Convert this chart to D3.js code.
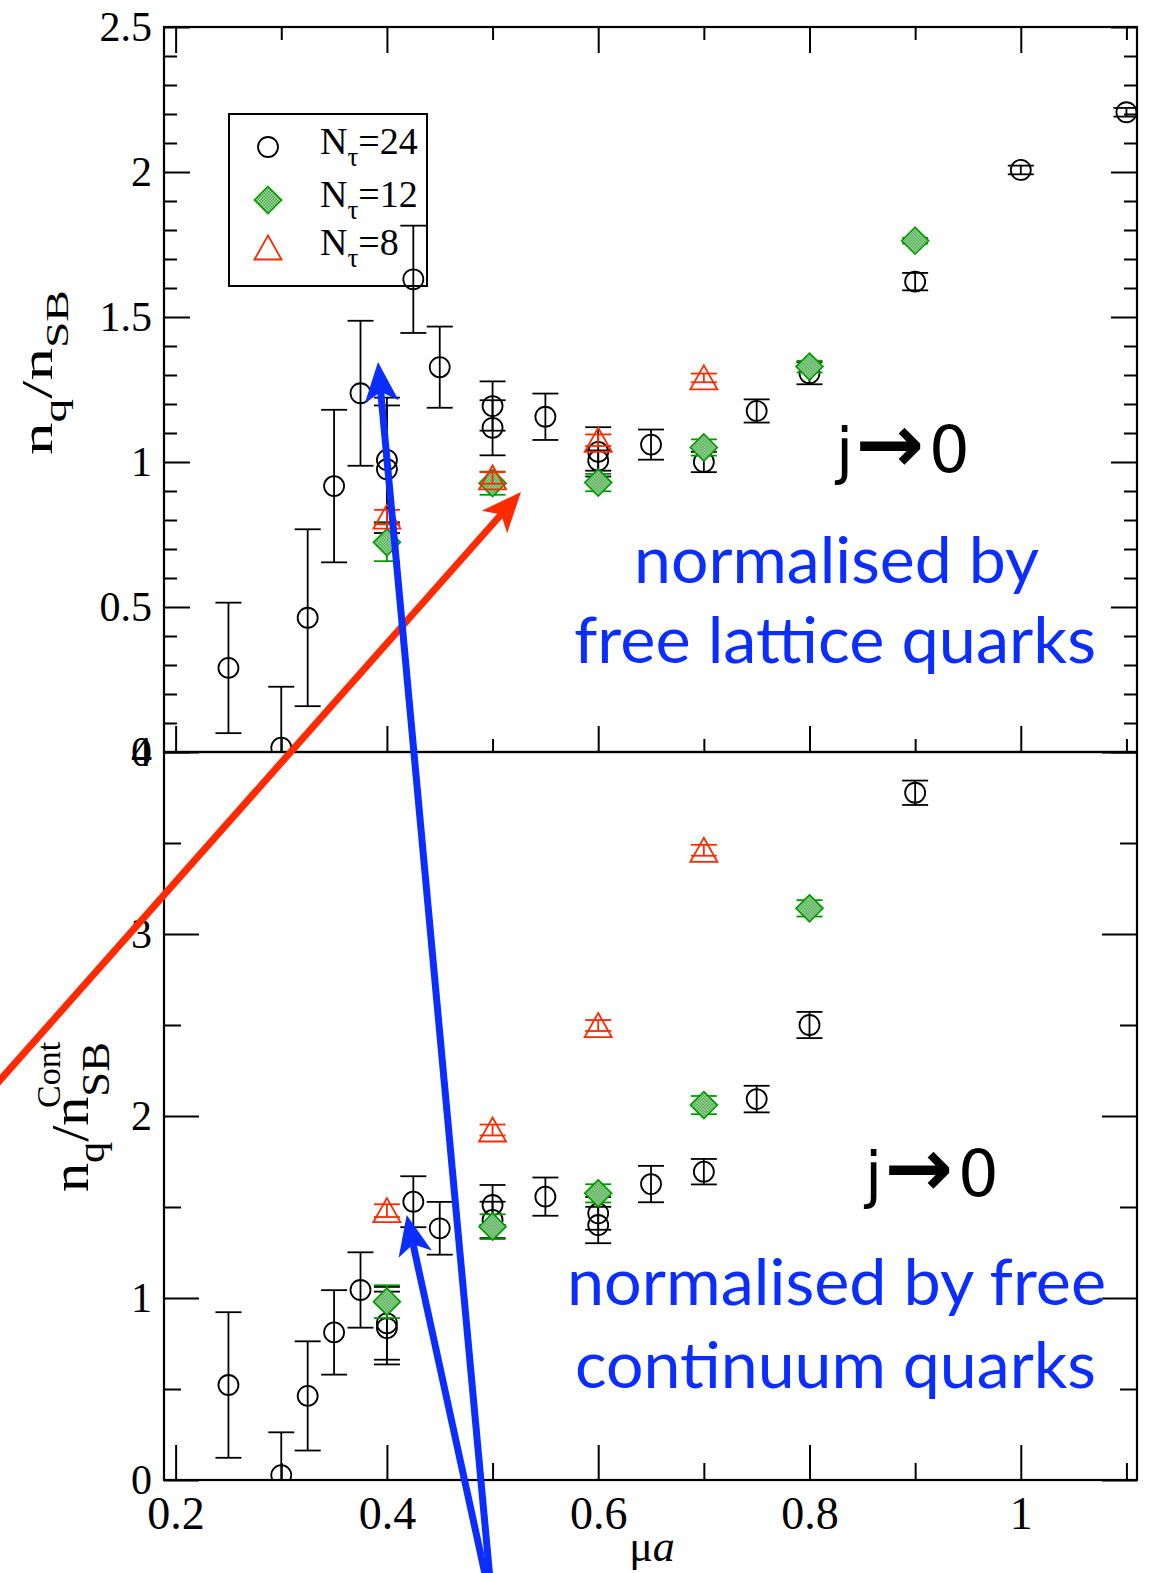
<!DOCTYPE html>
<html>
<head>
<meta charset="utf-8">
<script src="https://cdn.jsdelivr.net/npm/d3@7"></script>
<style>
  body { margin: 0; background: #fff; }
  svg { display: block; }
</style>
</head>
<body>
<svg id="chart" width="1153" height="1573"></svg>
<script>
/** Upper panel: n_q / n_SB (free lattice quarks), one array per quantity. */
const top24Mu  = [0.25, 0.3, 0.325, 0.35, 0.375, 0.4, 0.4, 0.425, 0.45, 0.5, 0.5, 0.55, 0.6, 0.6, 0.65, 0.7, 0.75, 0.8, 0.9, 1.0, 1.1];
const top24Val = [0.29, 0.015, 0.463, 0.917, 1.237, 1.007, 0.975, 1.63, 1.327, 1.193, 1.118, 1.156, 1.035, 1.005, 1.06, 1.0, 1.176, 1.306, 1.622, 2.007, 2.206];
const top24Err = [0.225, 0.21, 0.305, 0.263, 0.25, 0.215, 0.22, 0.185, 0.14, 0.085, 0.095, 0.08, 0.085, 0.035, 0.052, 0.035, 0.04, 0.038, 0.03, 0.015, 0.015];

const top12Mu  = [0.4, 0.5, 0.6, 0.7, 0.8, 0.9];
const top12Val = [0.723, 0.927, 0.929, 1.05, 1.329, 1.763];
const top12Err = [0.065, 0.04, 0.03, 0.028, 0.02, 0.01];

const top8Mu  = [0.4, 0.5, 0.6, 0.7];
const top8Val = [0.81, 0.945, 1.075, 1.29];
const top8Err = [0.025, 0.02, 0.02, 0.015];

/** Lower panel: n_q^Cont / n_SB (free continuum quarks). */
const bot24Mu  = [0.25, 0.3, 0.325, 0.35, 0.375, 0.4, 0.4, 0.425, 0.45, 0.5, 0.5, 0.55, 0.6, 0.6, 0.65, 0.7, 0.75, 0.8, 0.9];
const bot24Val = [0.522, 0.027, 0.462, 0.811, 1.044, 0.861, 0.835, 1.529, 1.383, 1.511, 1.429, 1.557, 1.465, 1.401, 1.626, 1.694, 2.093, 2.5, 3.776];
const bot24Err = [0.4, 0.235, 0.3, 0.232, 0.207, 0.2, 0.2, 0.14, 0.145, 0.11, 0.1, 0.105, 0.09, 0.1, 0.1, 0.07, 0.073, 0.072, 0.067];

const bot12Mu  = [0.4, 0.5, 0.6, 0.7, 0.8];
const bot12Val = [0.98, 1.392, 1.575, 2.06, 3.141];
const bot12Err = [0.09, 0.068, 0.05, 0.05, 0.045];

const bot8Mu  = [0.4, 0.5, 0.6, 0.7];
const bot8Val = [1.48, 1.923, 2.497, 3.46];
const bot8Err = [0.035, 0.03, 0.03, 0.03];

/** Legend entries and tick values. */
const legendLabels = [["24", "circle"], ["12", "diamond"], ["8", "triangle"]];
const xMajor = [0.2, 0.4, 0.6, 0.8, 1.0];
const xMinor = [0.3, 0.5, 0.7, 0.9, 1.1];
const topMajor = [0, 0.5, 1, 1.5, 2, 2.5];
const topMinor = [0.1, 0.2, 0.3, 0.4, 0.6, 0.7, 0.8, 0.9, 1.1, 1.2, 1.3, 1.4, 1.6, 1.7, 1.8, 1.9, 2.1, 2.2, 2.3, 2.4];
const botMajor = [0, 1, 2, 3, 4];
const botMinor = [0.5, 1.5, 2.5, 3.5];

const SERIF = "Liberation Serif, Times New Roman, serif";
const SANS = "Lato, Open Sans, sans-serif";
const BLUE = "#0b2eff";
const RED = "#ff2a00";
const GREEN = "#009a00";

const svg = d3.select("#chart");
const defs = svg.append("defs");

/** Checkered fill used for the diamond symbols. */
const pat = defs.append("pattern").attr("id", "checker")
  .attr("width", 3).attr("height", 3).attr("patternUnits", "userSpaceOnUse");
pat.append("rect").attr("width", 3).attr("height", 3).attr("fill", "#b4e0b4");
pat.append("rect").attr("width", 1.5).attr("height", 1.5).attr("fill", "#3aa03a");
pat.append("rect").attr("x", 1.5).attr("y", 1.5).attr("width", 1.5).attr("height", 1.5).attr("fill", "#3aa03a");

/** Shared x scale and the two stacked y scales. */
const x = d3.scaleLinear().domain([0.189, 1.11]).range([164, 1137]);
const yTop = d3.scaleLinear().domain([0, 2.5]).range([752, 27]);
const yBot = d3.scaleLinear().domain([0, 4]).range([1480, 752]);

/** Draw one symbol of the given kind into group g at (0,0). */
function symbol(g, kind) {
  if (kind === "circle") {
    g.append("circle").attr("r", 10).attr("fill", "none")
      .attr("stroke", "#000").attr("stroke-width", 1.8);
  } else if (kind === "diamond") {
    g.append("path").attr("d", "M0,-13.5L13.5,0L0,13.5L-13.5,0Z")
      .attr("fill", "url(#checker)").attr("stroke", GREEN).attr("stroke-width", 1.6);
  } else {
    g.append("path").attr("d", "M0,-12.5L13.5,11.5L-13.5,11.5Z")
      .attr("fill", "none").attr("stroke", RED).attr("stroke-width", 1.8);
  }
}

const kindColor = { circle: "#000", diamond: GREEN, triangle: RED };

/** Error bars plus symbols for one data set. */
function series(parent, y, mu, val, err, kind) {
  const rows = mu.map((m, i) => ({ m, v: val[i], e: err[i] }));
  const col = kindColor[kind];
  const g = parent.append("g");
  const eb = g.append("g").attr("stroke", col).attr("stroke-width", 1.8);
  rows.forEach((d) => {
    const cx = x(d.m), lo = y(d.v - d.e), hi = y(d.v + d.e);
    eb.append("line").attr("x1", cx).attr("x2", cx).attr("y1", lo).attr("y2", hi);
    eb.append("line").attr("x1", cx - 13).attr("x2", cx + 13).attr("y1", lo).attr("y2", lo);
    eb.append("line").attr("x1", cx - 13).attr("x2", cx + 13).attr("y1", hi).attr("y2", hi);
  });
  g.selectAll(".pt").data(rows).join("g").attr("class", "pt")
    .attr("transform", (d) => `translate(${x(d.m)},${y(d.v)})`)
    .each(function () { symbol(d3.select(this), kind); });
}

/** Inward tick set built with a D3 axis. */
function ticks(axisFn, scale, values, size, transform, withLabels, fontSize, pad) {
  const a = axisFn(scale).tickValues(values).tickSize(-size).tickPadding(pad || 0)
    .tickFormat(withLabels ? d3.format("") : () => "");
  const g = svg.append("g").attr("transform", transform).call(a);
  g.select(".domain").remove();
  g.selectAll("line").attr("stroke", "#000").attr("stroke-width", 2);
  g.attr("font-family", SERIF).attr("font-size", fontSize || 10);
  g.selectAll("text").attr("fill", "#000");
  return g;
}

/** Panel frame, ticks and clipped data area. */
function panel(id, y, major, minor, maj, min, topTicks, xLabels) {
  const [yb, yt] = y.range();
  defs.append("clipPath").attr("id", id).append("rect")
    .attr("x", 164).attr("y", yt).attr("width", 973).attr("height", yb - yt);

  ticks(d3.axisLeft, y, major, maj, "translate(164,0)", true, 42, 12);
  ticks(d3.axisLeft, y, minor, min, "translate(164,0)", false);
  ticks(d3.axisRight, y, major, maj, "translate(1137,0)", false);
  ticks(d3.axisRight, y, minor, min, "translate(1137,0)", false);
  ticks(d3.axisBottom, x, xMajor, maj, `translate(0,${yb})`, xLabels, 46, 16);
  ticks(d3.axisBottom, x, xMinor, min, `translate(0,${yb})`, false);
  if (topTicks) {
    ticks(d3.axisTop, x, xMajor, maj, `translate(0,${yt})`, false);
    ticks(d3.axisTop, x, xMinor, min, `translate(0,${yt})`, false);
  }
  svg.append("rect").attr("x", 164).attr("y", yt).attr("width", 973).attr("height", yb - yt)
    .attr("fill", "none").attr("stroke", "#000").attr("stroke-width", 2.2);
  return svg.append("g").attr("clip-path", `url(#${id})`);
}

const gTop = panel("clipTop", yTop, topMajor, topMinor, 26, 13, true, false);

/** Legend box (unfilled, drawn under the data like the original). */
svg.append("rect").attr("x", 229).attr("y", 114).attr("width", 198).attr("height", 172)
  .attr("fill", "none").attr("stroke", "#000").attr("stroke-width", 2);
const legRows = [147, 200, 248];
legendLabels.forEach(([n, kind], i) => {
  symbol(svg.append("g").attr("transform", `translate(268,${legRows[i]})`), kind);
  const t = svg.append("text").attr("x", 320).attr("y", legRows[i] + 7)
    .attr("font-family", SERIF).attr("font-size", 38).attr("fill", "#000");
  t.append("tspan").text("N");
  t.append("tspan").attr("font-size", 27).attr("dy", 12).text("τ");
  t.append("tspan").attr("dy", -12).text("=" + n);
});

const gTopData = svg.append("g").attr("clip-path", "url(#clipTop)");
series(gTopData, yTop, top24Mu, top24Val, top24Err, "circle");
series(gTopData, yTop, top12Mu, top12Val, top12Err, "diamond");
series(gTopData, yTop, top8Mu, top8Val, top8Err, "triangle");

const gBot = panel("clipBot", yBot, botMajor, botMinor, 35, 17, false, true);
series(gBot, yBot, bot24Mu, bot24Val, bot24Err, "circle");
series(gBot, yBot, bot12Mu, bot12Val, bot12Err, "diamond");
series(gBot, yBot, bot8Mu, bot8Val, bot8Err, "triangle");

/** Axis titles. */
const yl1 = svg.append("text").attr("transform", "translate(52,455) rotate(-90)")
  .attr("font-family", SERIF).attr("font-size", 44).attr("fill", "#000")
  .attr("textLength", 165).attr("lengthAdjust", "spacingAndGlyphs");
yl1.append("tspan").text("n");
yl1.append("tspan").attr("font-size", 32).attr("dy", 14).text("q");
yl1.append("tspan").attr("dy", -14).text("/n");
yl1.append("tspan").attr("font-size", 32).attr("dy", 16).text("SB");

const yl2 = svg.append("g").attr("transform", "translate(88,1192) rotate(-90)")
  .attr("font-family", SERIF).attr("fill", "#000");
const yl2t = yl2.append("text").attr("font-size", 52)
  .attr("textLength", 150).attr("lengthAdjust", "spacingAndGlyphs");
yl2t.append("tspan").text("n");
yl2t.append("tspan").attr("font-size", 38).attr("dy", 16).text("q");
yl2t.append("tspan").attr("dy", -16).text("/n");
yl2t.append("tspan").attr("font-size", 40).attr("dy", 21).text("SB");
yl2.append("text").attr("x", 84).attr("y", -28).attr("font-size", 34).text("Cont");

const xl = svg.append("text").attr("x", 652).attr("y", 1561).attr("text-anchor", "middle")
  .attr("font-family", SERIF).attr("font-size", 44).attr("fill", "#000");
xl.append("tspan").text("μ");
xl.append("tspan").attr("font-style", "italic").text("a");

/** Annotation texts. */
const notes = [
  ["normalised by", 634, 583, 405],
  ["free lattice quarks", 574, 663, 522],
  ["normalised by free", 567, 1305, 539],
  ["continuum quarks", 575, 1388, 521],
];
notes.forEach(([s, tx, ty, len]) => {
  svg.append("text").attr("x", tx).attr("y", ty).attr("font-family", SANS)
    .attr("font-size", 64).attr("fill", BLUE)
    .attr("textLength", len).attr("lengthAdjust", "spacingAndGlyphs").text(s);
});
[[836, 472], [865, 1196]].forEach(([tx, ty]) => {
  const t = svg.append("text").attr("x", tx).attr("y", ty).attr("font-family", "DejaVu Sans, sans-serif")
    .attr("font-size", 62).attr("fill", "#000");
  t.append("tspan").text("j");
  t.append("tspan").attr("font-weight", "bold").attr("font-size", 82).attr("dx", 2).text("→");
  t.append("tspan").attr("font-size", 64).attr("dx", 5).text("0");
});

/** Hand-drawn arrows (pixel layout, not data). */
function arrow(x0, y0, x1, y1, color) {
  const dx = x1 - x0, dy = y1 - y0, L = Math.hypot(dx, dy);
  const ux = dx / L, uy = dy / L, px = -uy, py = ux;
  const hl = 40, hw = 17, notch = 30;
  svg.append("line").attr("x1", x0).attr("y1", y0)
    .attr("x2", x1 - ux * notch).attr("y2", y1 - uy * notch)
    .attr("stroke", color).attr("stroke-width", 7);
  const pts = [
    [x1, y1],
    [x1 - ux * hl + px * hw, y1 - uy * hl + py * hw],
    [x1 - ux * notch, y1 - uy * notch],
    [x1 - ux * hl - px * hw, y1 - uy * hl - py * hw],
  ];
  svg.append("path").attr("d", "M" + pts.map((p) => p.join(",")).join("L") + "Z").attr("fill", color);
}
arrow(-30, 1114, 521, 492, RED);
arrow(491, 1590, 378, 362, BLUE);
arrow(488.5, 1590, 406.7, 1215, BLUE);
</script>
</body>
</html>
